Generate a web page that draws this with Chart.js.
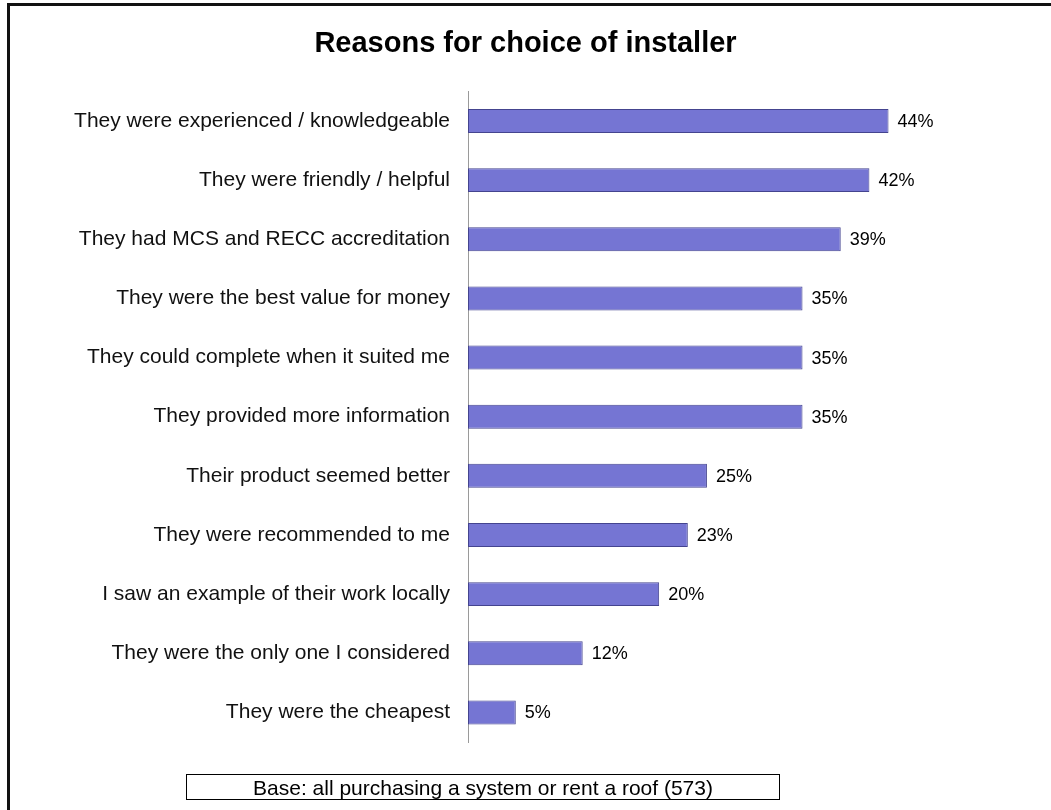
<!DOCTYPE html>
<html>
<head>
<meta charset="utf-8">
<title>Reasons for choice of installer</title>
<script src="https://cdn.jsdelivr.net/npm/chart.js@4.4.1/dist/chart.umd.min.js"></script>
<style>
  html, body { margin: 0; padding: 0; background: #fff; overflow: hidden; }
  #wrap { position: relative; width: 1051px; height: 810px; }
  #frame {
    position: absolute; left: 7px; top: 3px; right: -20px; bottom: -20px;
    border-top: 3px solid #111; border-left: 3px solid #111;
    pointer-events: none;
  }
  #base {
    position: absolute; left: 186px; top: 774px; width: 592px; height: 24px;
    border: 1px solid #000;
    font: 21px "Liberation Sans", Arial, sans-serif; color: #000;
    text-align: center; line-height: 25px;
  }
</style>
</head>
<body>
<div id="wrap">
  <canvas id="installerChart" width="1051" height="810"></canvas>
  <div id="frame"></div>
  <div id="base">Base: all purchasing a system or rent a roof (573)</div>
</div>
<script>
const reasons = [
  "They were experienced / knowledgeable",
  "They were friendly / helpful",
  "They had MCS and RECC accreditation",
  "They were the best value for money",
  "They could complete when it suited me",
  "They provided more information",
  "Their product seemed better",
  "They were recommended to me",
  "I saw an example of their work locally",
  "They were the only one I considered",
  "They were the cheapest",
];
const shares = [44, 42, 39, 35, 35, 35, 25, 23, 20, 12, 5];

const FONT = '"Liberation Sans", Arial, sans-serif';

// percentage labels at the end of each bar
const valueLabels = {
  id: "valueLabels",
  afterDatasetsDraw(chart) {
    const { ctx } = chart;
    const meta = chart.getDatasetMeta(0);
    ctx.save();
    ctx.font = "18px " + FONT;
    ctx.fillStyle = "#000";
    ctx.textAlign = "left";
    ctx.textBaseline = "middle";
    meta.data.forEach((bar, i) => {
      ctx.fillText(shares[i] + "%", bar.x + 9, bar.y + 1);
    });
    ctx.restore();
  },
};

new Chart(document.getElementById("installerChart"), {
  type: "bar",
  data: {
    labels: reasons,
    datasets: [
      {
        data: shares,
        backgroundColor: "#7575d3",
        borderColor: "#44448f",
        borderWidth: 1,
        borderSkipped: false,
        barPercentage: 0.405,
        categoryPercentage: 1,
      },
    ],
  },
  options: {
    indexAxis: "y",
    responsive: false,
    animation: false,
    layout: { padding: { left: 0, right: 0, top: 0, bottom: 68 } },
    plugins: {
      legend: { display: false },
      tooltip: { enabled: false },
      title: {
        display: true,
        text: "Reasons for choice of installer",
        color: "#000",
        font: { family: FONT, size: 29, weight: "bold" },
        padding: { top: 27, bottom: 29.6 },
      },
    },
    scales: {
      x: {
        display: false,
        min: 0,
        max: 61,
      },
      y: {
        afterFit(scale) {
          scale.width = 468;
        },
        grid: { display: false, drawTicks: false },
        border: { display: true, color: "#9a9a9a", width: 1 },
        ticks: {
          color: "#111",
          padding: 18,
          font: { family: FONT, size: 21 },
        },
      },
    },
  },
  plugins: [valueLabels],
});
</script>
</body>
</html>
